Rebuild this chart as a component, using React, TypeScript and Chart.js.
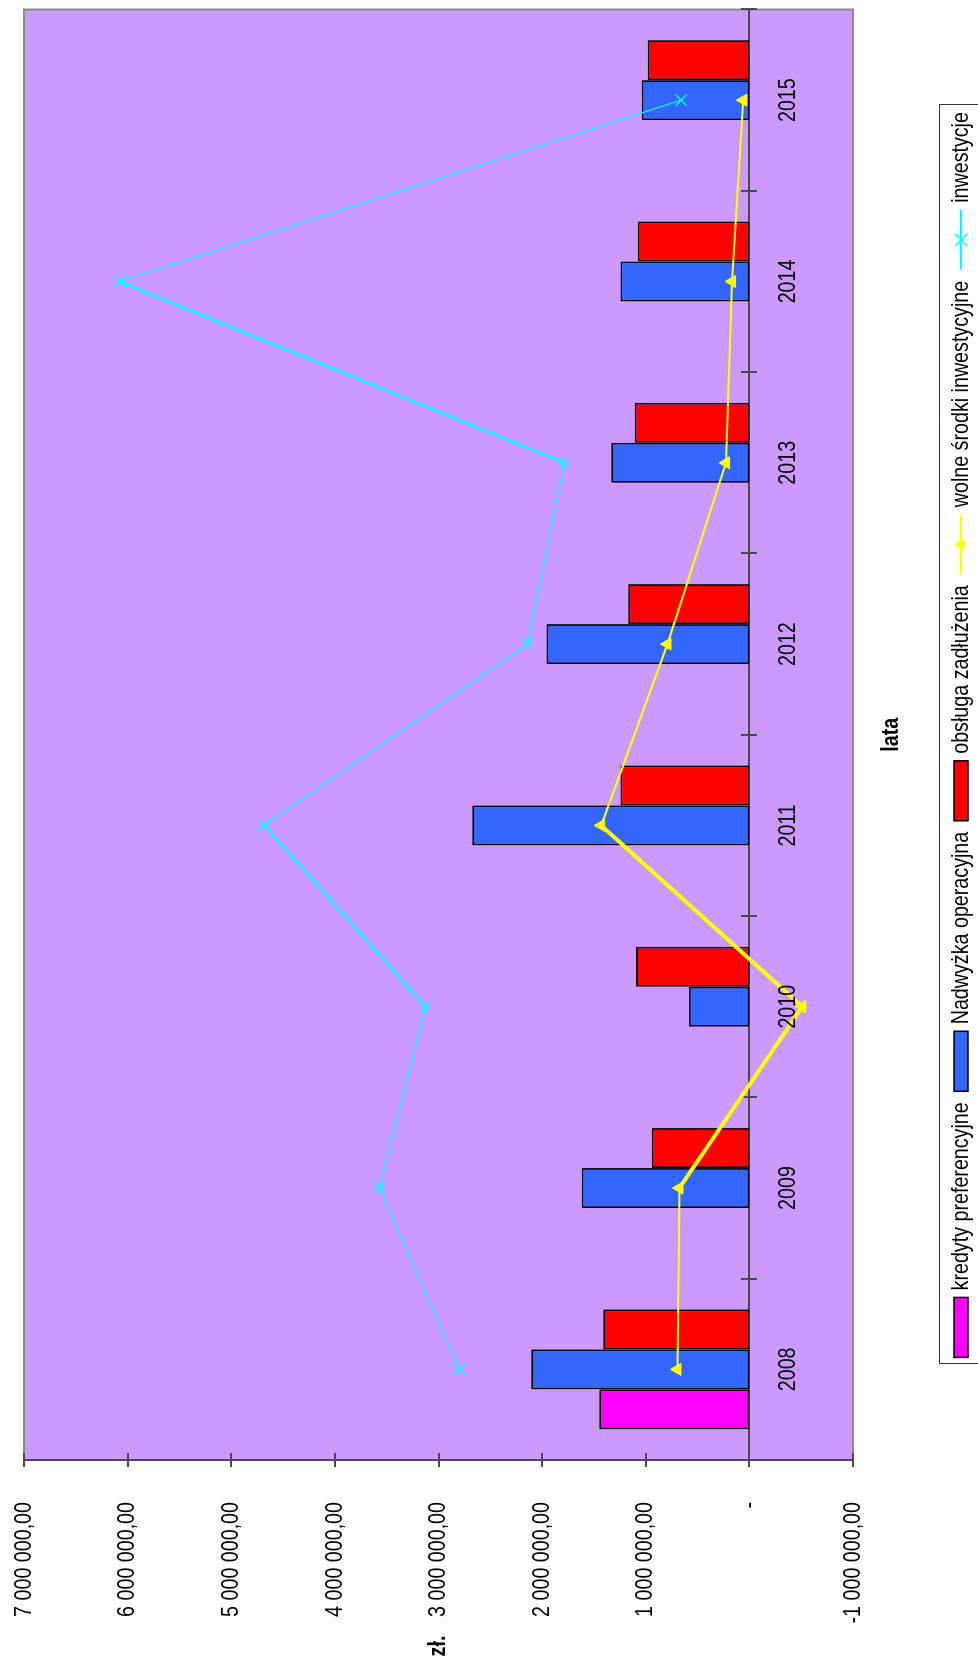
import React, { useEffect, useRef } from 'react';
import { Chart, registerables } from 'chart.js';

Chart.register(...registerables);

// ---- data ----
const years = ['2008', '2009', '2010', '2011', '2012', '2013', '2014', '2015'];
const kredytyPreferencyjne = [1449000, null, null, null, null, null, null, null];
const nadwyzkaOperacyjna = [2105000, 1617000, 582000, 2674000, 1958000, 1332000, 1244000, 1038000];
const obslugaZadluzenia = [1411000, 942000, 1093000, 1244000, 1168000, 1107000, 1077000, 980000];
const wolneSrodkiInwestycyjne = [694000, 675000, -511000, 1430000, 790000, 225000, 167000, 58000];
const inwestycje = [2800000, 3570000, 3124000, 4680000, 2143000, 1786000, 6080000, 659000];
const valueMin = -1000000;
const valueMax = 7000000;
const valueStep = 1000000;
const axisTitleX = 'lata';
const axisTitleY = 'zł.';

const FONT = '"Liberation Sans", Arial, sans-serif';
const FS = 24;     // font size
const SX = 0.82;   // horizontal condensing of the text (narrow face)

const W = 1659; // unrotated canvas width  (page height)
const H = 978;  // unrotated canvas height (page width)

function fmt(v: number): string {
  if (v === 0) return '-';
  const s = Math.round(Math.abs(v)).toString().replace(/\B(?=(\d{3})+(?!\d))/g, ' ');
  return (v < 0 ? '-' : '') + s + ',00';
}

function narrowText(
  ctx: CanvasRenderingContext2D,
  text: string,
  x: number,
  y: number,
  align: CanvasTextAlign,
  baseline: CanvasTextBaseline,
  bold = false,
) {
  ctx.save();
  ctx.font = `${bold ? 'bold ' : ''}${FS}px ${FONT}`;
  ctx.textAlign = align;
  ctx.textBaseline = baseline;
  ctx.translate(x, y);
  ctx.scale(SX, 1);
  ctx.fillText(text, 0, 0);
  ctx.restore();
}

function narrowWidth(ctx: CanvasRenderingContext2D, text: string, bold = false) {
  ctx.save();
  ctx.font = `${bold ? 'bold ' : ''}${FS}px ${FONT}`;
  const w = ctx.measureText(text).width * SX;
  ctx.restore();
  return w;
}

const framePlugin = {
  id: 'frame',
  beforeDatasetsDraw(chart: any) {
    const { ctx, chartArea: ca, scales } = chart;
    const x = scales.x;
    const y = scales.y;
    ctx.save();
    ctx.fillStyle = '#CC99FF';
    ctx.fillRect(ca.left, ca.top, ca.right - ca.left, ca.bottom - ca.top);
    ctx.strokeStyle = '#8a8a8a';
    ctx.lineWidth = 2;
    ctx.strokeRect(ca.left, ca.top, ca.right - ca.left, ca.bottom - ca.top);

    // value axis (left)
    ctx.strokeStyle = '#4a4a4a';
    ctx.lineWidth = 2;
    ctx.beginPath();
    ctx.moveTo(ca.left, ca.top);
    ctx.lineTo(ca.left, ca.bottom);
    y.ticks.forEach((t: any) => {
      const py = Math.round(y.getPixelForValue(t.value));
      ctx.moveTo(ca.left - 7, py);
      ctx.lineTo(ca.left + 7, py);
    });
    ctx.stroke();

    // category axis at value 0
    const y0 = Math.round(y.getPixelForValue(0));
    const half = (x.getPixelForValue(1) - x.getPixelForValue(0)) / 2;
    ctx.beginPath();
    ctx.moveTo(ca.left, y0);
    ctx.lineTo(ca.right, y0);
    for (let i = 0; i <= years.length; i++) {
      const px = Math.round(x.getPixelForValue(i) - half);
      ctx.moveTo(px, y0 - 8);
      ctx.lineTo(px, y0 + 8);
    }
    ctx.stroke();
    ctx.restore();
  },
  afterDraw(chart: any) {
    const { ctx, chartArea: ca, scales } = chart;
    const x = scales.x;
    const y = scales.y;
    ctx.save();
    ctx.fillStyle = '#000';

    // value tick labels
    y.ticks.forEach((t: any) => {
      narrowText(ctx, fmt(Number(t.value)), ca.left - 42, y.getPixelForValue(t.value), 'right', 'middle');
    });

    // category labels
    years.forEach((lab, i) => {
      narrowText(ctx, lab, x.getPixelForValue(i), 795, 'center', 'alphabetic');
    });

    // axis titles
    narrowText(ctx, axisTitleX, (ca.left + ca.right) / 2, 898, 'center', 'alphabetic', true);
    narrowText(ctx, axisTitleY, 13, (ca.top + ca.bottom) / 2, 'center', 'middle', true);

    // legend
    const sw = 60;
    const gapText = 7;
    const gapItem = 11;
    const items = chart.data.datasets.map((ds: any) => ({ ds, w: narrowWidth(ctx, ds.label) }));
    const total = items.reduce((s: number, it: any) => s + sw + gapText + it.w, 0) + gapItem * (items.length - 1);
    let lx = (ca.left + ca.right) / 2 - total / 2;
    const boxTop = 939.5;
    const cy = 961;
    ctx.strokeStyle = '#333';
    ctx.lineWidth = 1;
    ctx.beginPath();
    ctx.moveTo(Math.round(lx - 7) + 0.5, H + 10);
    ctx.lineTo(Math.round(lx - 7) + 0.5, boxTop);
    ctx.lineTo(Math.round(lx + total + 7) + 0.5, boxTop);
    ctx.lineTo(Math.round(lx + total + 7) + 0.5, H + 10);
    ctx.stroke();
    items.forEach((it: any) => {
      const ds = it.ds;
      if (ds.type === 'line') {
        ctx.strokeStyle = ds.borderColor;
        ctx.lineWidth = 2;
        ctx.beginPath();
        ctx.moveTo(lx, cy);
        ctx.lineTo(lx + sw, cy);
        ctx.stroke();
        const mx = lx + sw / 2;
        if (ds.pointStyle === 'triangle') {
          const r = 7;
          ctx.fillStyle = ds.borderColor;
          ctx.beginPath();
          ctx.moveTo(mx, cy - r);
          ctx.lineTo(mx + r * 0.866, cy + r * 0.5);
          ctx.lineTo(mx - r * 0.866, cy + r * 0.5);
          ctx.closePath();
          ctx.fill();
        } else {
          const d = 6;
          ctx.lineWidth = 1.5;
          ctx.beginPath();
          ctx.moveTo(mx - d, cy - d);
          ctx.lineTo(mx + d, cy + d);
          ctx.moveTo(mx - d, cy + d);
          ctx.lineTo(mx + d, cy - d);
          ctx.stroke();
        }
      } else {
        ctx.fillStyle = ds.backgroundColor;
        ctx.fillRect(lx, cy - 7, sw, 14);
        ctx.strokeStyle = '#000';
        ctx.lineWidth = 1.5;
        ctx.strokeRect(lx, cy - 7, sw, 14);
      }
      ctx.fillStyle = '#000';
      narrowText(ctx, ds.label, lx + sw + gapText, cy, 'left', 'middle');
      lx += sw + gapText + it.w + gapItem;
    });
    ctx.restore();
  },
};

export default function App() {
  const ref = useRef<HTMLCanvasElement | null>(null);

  useEffect(() => {
    if (!ref.current) return;
    const barCommon = {
      type: 'bar' as const,
      borderColor: '#000',
      borderWidth: 1.8,
      borderSkipped: false,
      categoryPercentage: 0.6615,
      barPercentage: 1,
      order: 2,
    };
    const chart = new Chart(ref.current, {
      type: 'bar',
      data: {
        labels: years,
        datasets: [
          { ...barCommon, label: 'kredyty preferencyjne', data: kredytyPreferencyjne, backgroundColor: '#FF00FF' },
          { ...barCommon, label: 'Nadwyżka operacyjna', data: nadwyzkaOperacyjna, backgroundColor: '#3366FF' },
          { ...barCommon, label: 'obsługa zadłużenia', data: obslugaZadluzenia, backgroundColor: '#FF0000' },
          {
            type: 'line',
            label: 'wolne środki inwestycyjne',
            data: wolneSrodkiInwestycyjne,
            borderColor: '#FFFF00',
            backgroundColor: '#FFFF00',
            borderWidth: 2,
            segment: {
              borderWidth: (c: any) => (c.p0DataIndex === 1 || c.p0DataIndex === 2 ? 4 : 2),
            },
            pointStyle: 'triangle',
            pointRadius: 7,
            pointBorderWidth: 1,
            tension: 0,
            order: 1,
          },
          {
            type: 'line',
            label: 'inwestycje',
            data: inwestycje,
            borderColor: '#00FFFF',
            backgroundColor: '#00FFFF',
            borderWidth: 1.3,
            segment: {
              borderWidth: (c: any) => (c.p0DataIndex === 2 || c.p0DataIndex === 5 ? 2.5 : 1.3),
            },
            pointStyle: 'crossRot',
            pointRadius: 8,
            pointBorderWidth: 1.5,
            tension: 0,
            order: 1,
          },
        ] as any,
      },
      options: {
        responsive: false,
        maintainAspectRatio: false,
        animation: false,
        events: [],
        layout: { padding: { left: 0, top: 24, right: 9, bottom: 125 } },
        plugins: {
          legend: { display: false },
          tooltip: { enabled: false },
        },
        scales: {
          x: {
            type: 'category',
            display: false,
            offset: true,
            grid: { display: false },
          },
          y: {
            min: valueMin,
            max: valueMax,
            grid: { display: false, drawTicks: false },
            border: { display: false },
            ticks: {
              stepSize: valueStep,
              display: false,
            },
            afterFit: (scale: any) => {
              scale.width = 199;
            },
          },
        },
      } as any,
      plugins: [framePlugin],
    });
    return () => chart.destroy();
  }, []);

  return (
    <div style={{ position: 'absolute', left: 0, top: 0, width: 978, height: 1659, overflow: 'hidden', background: '#fff' }}>
      <canvas
        ref={ref}
        width={W}
        height={H}
        style={{
          position: 'absolute',
          left: 0,
          top: 0,
          width: W,
          height: H,
          transformOrigin: '0 0',
          transform: `translate(0px, ${W}px) rotate(-90deg)`,
        }}
      />
    </div>
  );
}
